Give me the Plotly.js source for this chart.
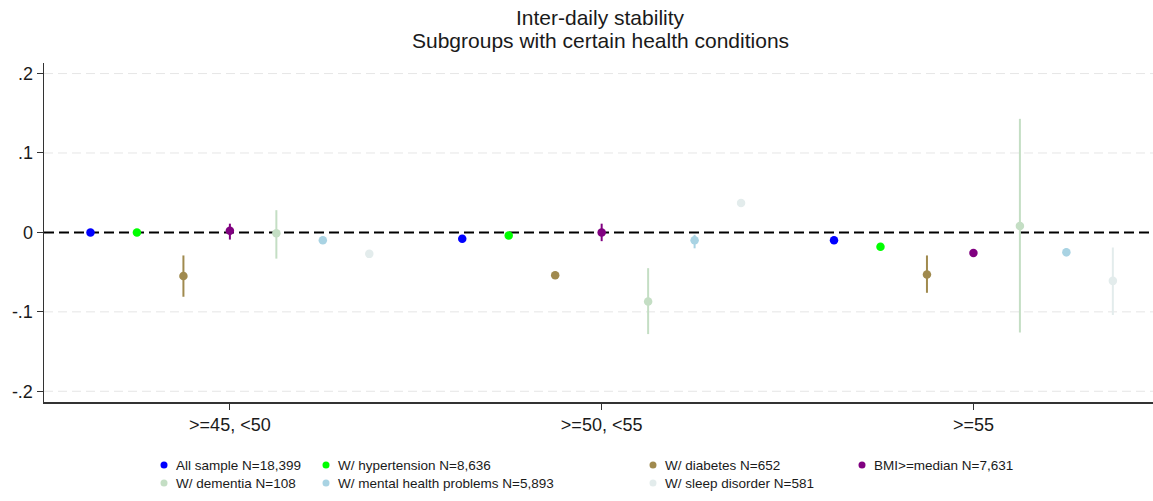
<!DOCTYPE html>
<html>
<head>
<meta charset="utf-8">
<script src="https://cdn.plot.ly/plotly-3.0.1.min.js"></script>
<style>html,body{margin:0;padding:0;background:#fff;}#chart{width:1153px;height:501px;}</style>
</head>
<body>
<div id="chart"></div>
<script>
// ---- Data ----
const titleLines = ["Inter-daily stability", "Subgroups with certain health conditions"];
const groups = [">=45, <50", ">=50, <55", ">=55"];
const seriesNames = [
  "All sample N=18,399",
  "W/ hypertension N=8,636",
  "W/ diabetes N=652",
  "BMI>=median N=7,631",
  "W/ dementia N=108",
  "W/ mental health problems N=5,893",
  "W/ sleep disorder N=581"
];
const seriesColors = ["#0000ff", "#00ff00", "#a08a4e", "#800080", "#c4dec4", "#a9d3e3", "#e3ecec"];

// point estimates per group
const estAll      = [0.000, -0.008, -0.010];
const estHypert   = [0.000, -0.004, -0.018];
const estDiabetes = [-0.055, -0.054, -0.053];
const estBMI      = [0.002, 0.000, -0.026];
const estDementia = [-0.001, -0.087, 0.008];
const estMental   = [-0.010, -0.010, -0.025];
const estSleep    = [-0.027, 0.037, -0.061];

// confidence interval bounds per group
const loAll      = [-0.003, -0.011, -0.013];
const hiAll      = [0.003, -0.005, -0.007];
const loHypert   = [-0.003, -0.007, -0.021];
const hiHypert   = [0.003, -0.001, -0.015];
const loDiabetes = [-0.081, -0.057, -0.076];
const hiDiabetes = [-0.029, -0.051, -0.029];
const loBMI      = [-0.009, -0.011, -0.029];
const hiBMI      = [0.011, 0.011, -0.023];
const loDementia = [-0.033, -0.128, -0.126];
const hiDementia = [0.028, -0.045, 0.143];
const loMental   = [-0.014, -0.020, -0.030];
const hiMental   = [-0.006, -0.003, -0.020];
const loSleep    = [-0.030, 0.034, -0.104];
const hiSleep    = [-0.024, 0.040, -0.019];

const yTickVals = [-0.2, -0.1, 0, 0.1, 0.2];
const yTickText = ["-.2", "-.1", "0", ".1", ".2"];
const yGridVals = [-0.2, -0.1, 0.1, 0.2];
const refLineValue = 0;

// ---- Build ----
const estList = [estAll, estHypert, estDiabetes, estBMI, estDementia, estMental, estSleep];
const loList  = [loAll, loHypert, loDiabetes, loBMI, loDementia, loMental, loSleep];
const hiList  = [hiAll, hiHypert, hiDiabetes, hiBMI, hiDementia, hiMental, hiSleep];

const nS = seriesNames.length;
const step = 1 / 8;
const traces = [];
for (let i = 0; i < nS; i++) {
  const xs = groups.map((g, gi) => (gi + 1) + (i - (nS - 1) / 2) * step);
  const est = estList[i];
  traces.push({
    type: "scatter",
    mode: "markers",
    x: xs,
    y: est,
    name: seriesNames[i],
    showlegend: false,
    marker: { color: seriesColors[i], size: 8.5, line: { width: 0 } },
    error_y: {
      type: "data",
      symmetric: false,
      array: hiList[i].map((h, k) => h - est[k]),
      arrayminus: est.map((e, k) => e - loList[i][k]),
      color: seriesColors[i],
      thickness: 2,
      width: 0
    }
  });
}

// layout geometry
const W = 1153, H = 501;
const mL = 44, mR = 0, mT = 63, mB = 99;
const pw = W - mL - mR, ph = H - mT - mB;
const px2x = p => (p - mL) / pw;
const py2y = p => (H - mB - p) / ph;

const shapes = [];
// light dashed gridlines (not at zero)
yGridVals.forEach(v => {
  shapes.push({
    type: "line", xref: "paper", x0: 0, x1: 1, yref: "y", y0: v, y1: v,
    line: { color: "#e6e6e6", width: 1, dash: "9px,5px" }, layer: "below"
  });
});
// black dashed reference line at zero
shapes.push({
  type: "line", xref: "paper", x0: 0, x1: 1, yref: "y", y0: refLineValue, y1: refLineValue,
  line: { color: "#000000", width: 2, dash: "10px,5px" }, layer: "between"
});
const annotations = [];

// title lines
const titleRowY = [17, 41];
titleLines.forEach((t, i) => {
  annotations.push({
    xref: "paper", yref: "paper", x: px2x(600), y: py2y(titleRowY[i]),
    xanchor: "center", yanchor: "middle", showarrow: false,
    text: t, font: { size: 21, color: "#1a1a1a" }
  });
});

// manual legend (4 columns, 2 rows like the reference)
const legendColX = [164, 326, 653, 862];
const legendRowY = [465, 483];
seriesNames.forEach((nm, i) => {
  const col = i % 4, row = Math.floor(i / 4);
  const cx = px2x(legendColX[col]);
  const cy = py2y(legendRowY[row]);
  shapes.push({
    type: "circle", xref: "paper", yref: "paper",
    xsizemode: "pixel", ysizemode: "pixel",
    xanchor: cx, yanchor: cy, x0: -3.5, x1: 3.5, y0: -3.5, y1: 3.5,
    fillcolor: seriesColors[i], line: { width: 0 }
  });
  annotations.push({
    xref: "paper", yref: "paper", x: px2x(legendColX[col] + 10), y: cy,
    xanchor: "left", yanchor: "middle", showarrow: false,
    text: nm, font: { size: 13.5, color: "#1a1a1a" }
  });
});

const layout = {
  width: W, height: H,
  margin: { l: mL, r: mR, t: mT, b: mB, pad: 0 },
  paper_bgcolor: "#ffffff", plot_bgcolor: "#ffffff",
  font: { family: "Liberation Sans, Arial, sans-serif", color: "#1a1a1a" },
  showlegend: false,
  xaxis: {
    range: [0.5, 3.483],
    tickvals: groups.map((g, i) => i + 1),
    ticktext: groups,
    showgrid: false, zeroline: false,
    showline: true, linecolor: "#333333", linewidth: 1.5,
    ticks: "outside", ticklen: 6, tickcolor: "#333333", tickwidth: 1,
    tickfont: { size: 18, color: "#1a1a1a" }
  },
  yaxis: {
    range: [-0.2135, 0.2133],
    tickvals: yTickVals, ticktext: yTickText,
    showgrid: false,
    zeroline: false,
    showline: true, linecolor: "#333333", linewidth: 1.5,
    ticks: "outside", ticklen: 6, tickcolor: "#333333", tickwidth: 1,
    tickfont: { size: 18, color: "#1a1a1a" }
  },
  shapes: shapes,
  annotations: annotations
};

Plotly.newPlot("chart", traces, layout, { displayModeBar: false, staticPlot: true });
</script>
</body>
</html>
